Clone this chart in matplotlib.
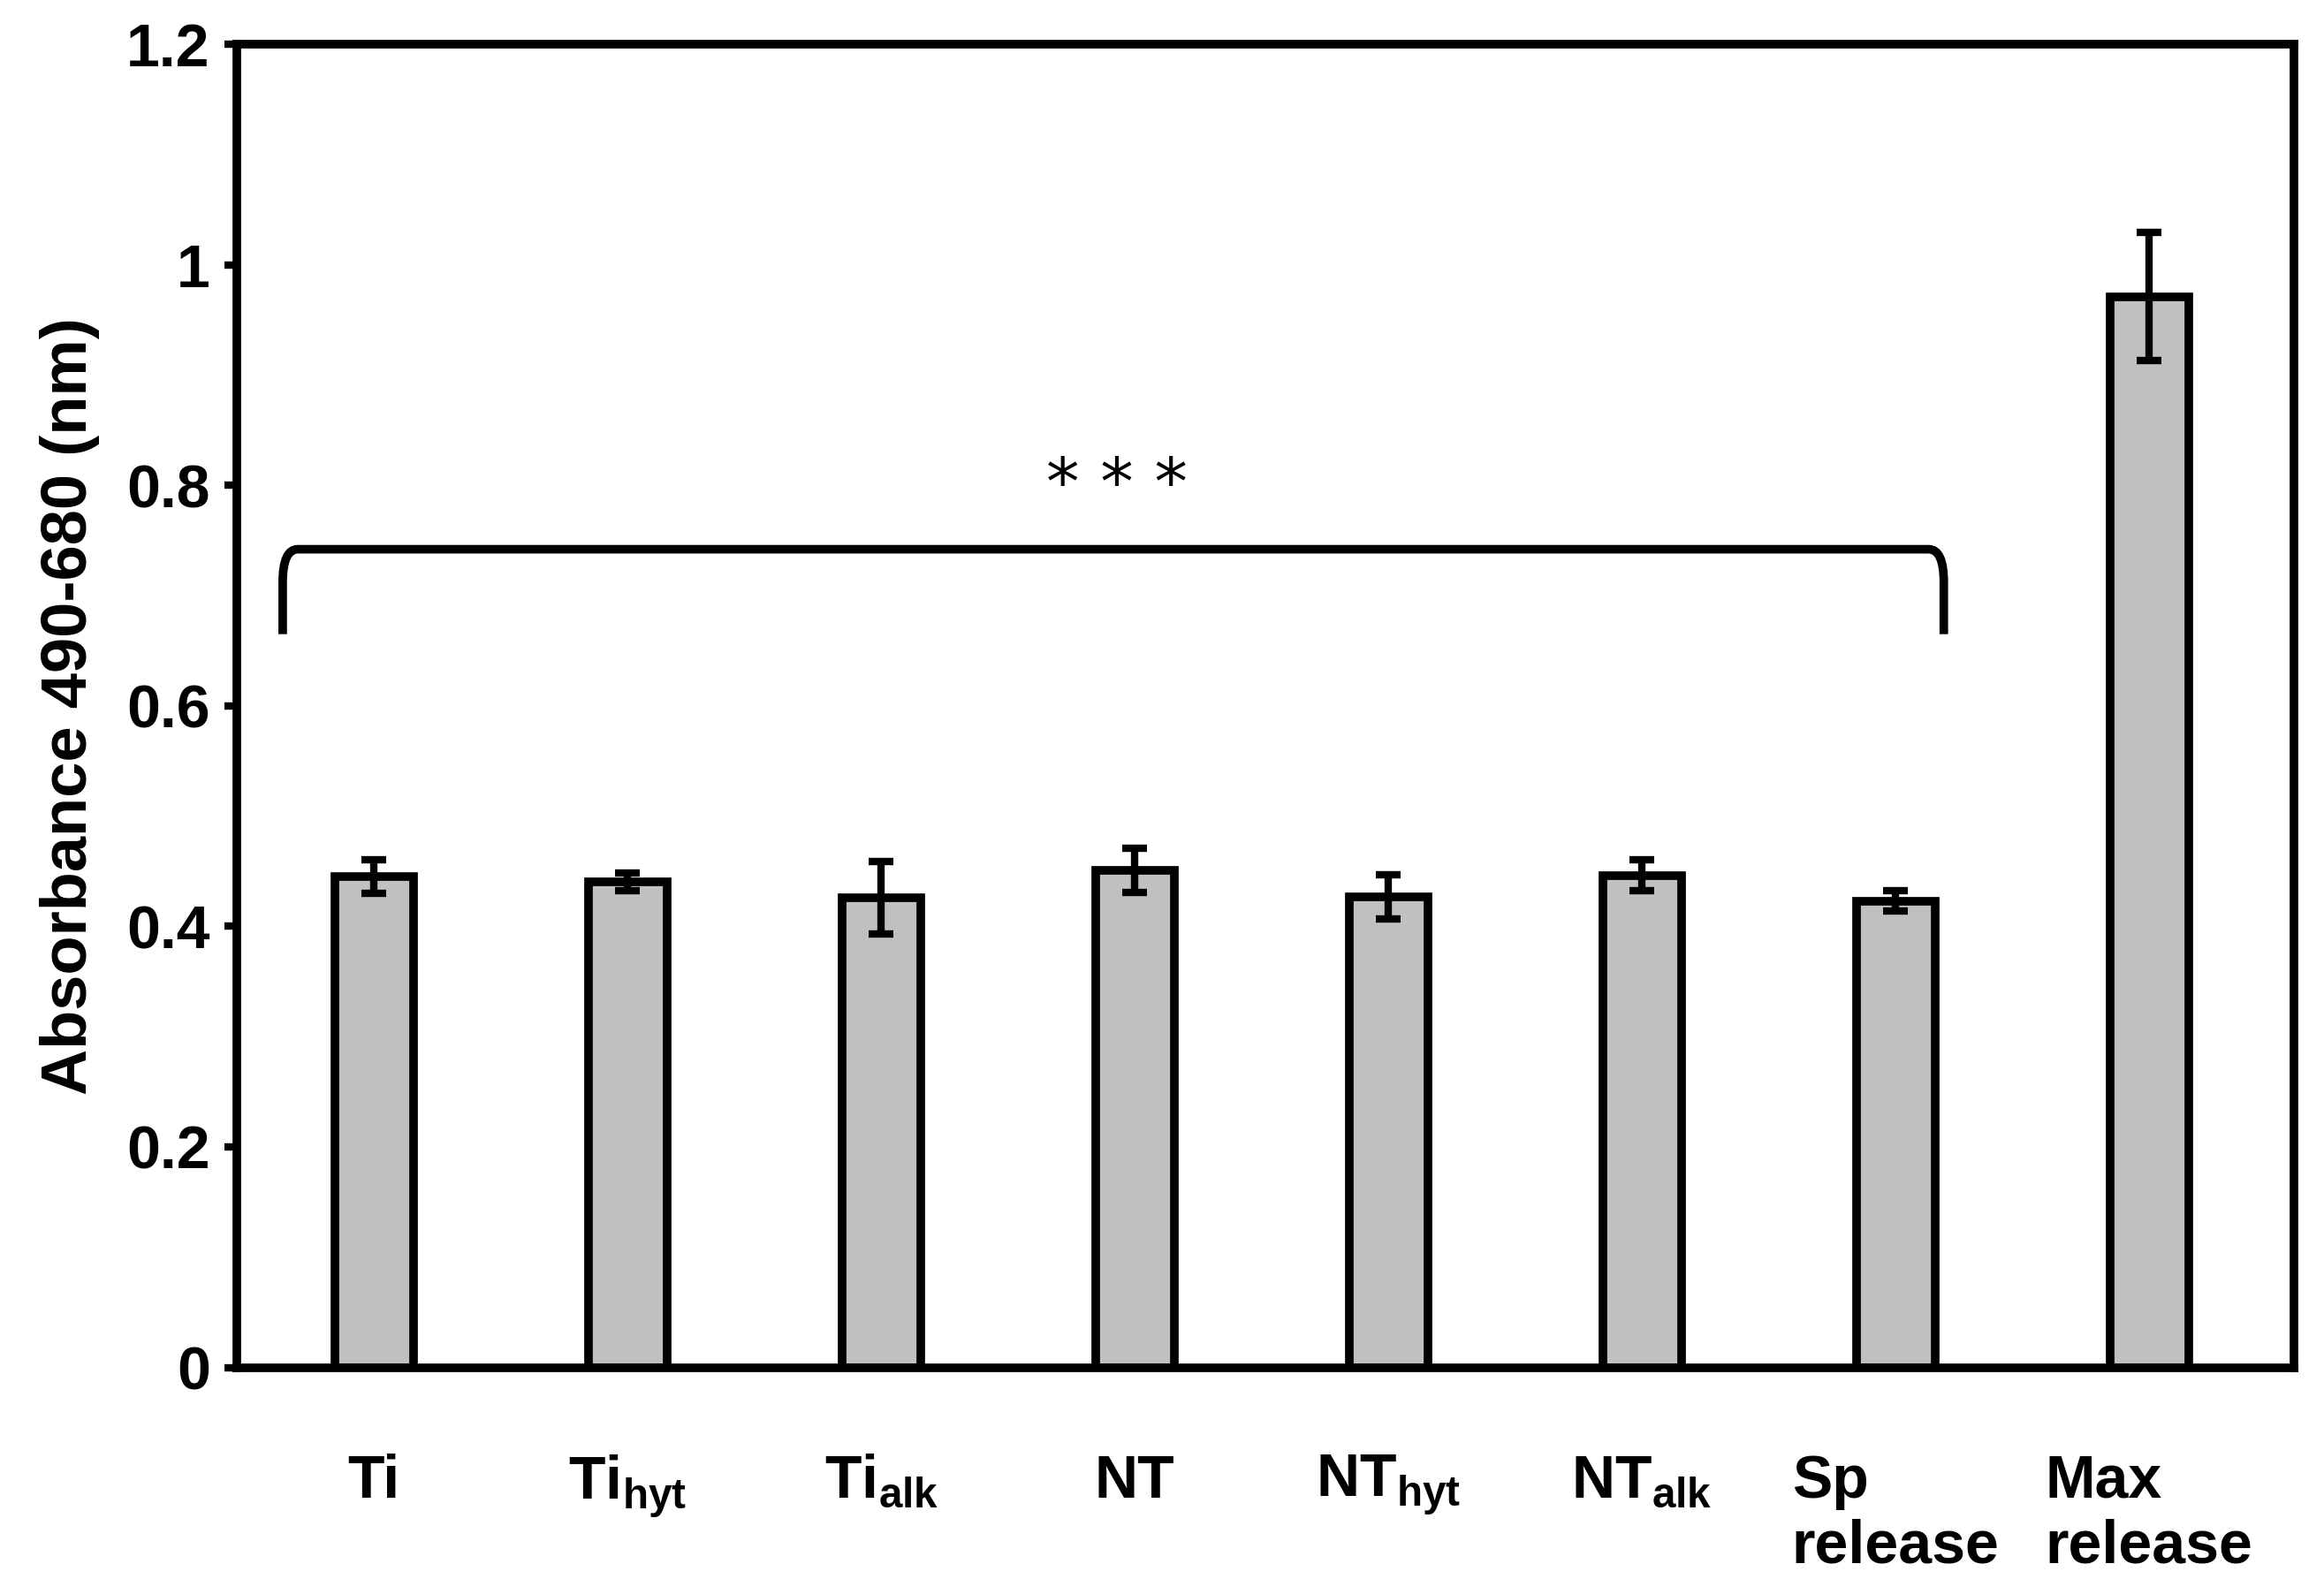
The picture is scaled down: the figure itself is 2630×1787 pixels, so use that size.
import matplotlib
matplotlib.use("Agg")
import matplotlib.pyplot as plt
from matplotlib.path import Path
from matplotlib.patches import PathPatch

plt.rcParams['font.family'] = ['Liberation Sans', 'DejaVu Sans']
plt.rcParams['font.weight'] = 'bold'
plt.rcParams['mathtext.fontset'] = 'custom'
plt.rcParams['mathtext.bf'] = 'Liberation Sans:bold'
plt.rcParams['mathtext.rm'] = 'Liberation Sans:bold'

labels = ['Ti', r'Ti$_\mathbf{hyt}$', r'Ti$_\mathbf{alk}$', 'NT', r'NT$_\mathbf{hyt}$',
          r'NT$_\mathbf{alk}$', 'Sp\nrelease', 'Max\nrelease']
values = [0.445, 0.440, 0.426, 0.451, 0.427, 0.446, 0.423, 0.971]
errors = [0.015, 0.008, 0.033, 0.020, 0.020, 0.014, 0.009, 0.058]

fig = plt.figure(figsize=(26.3, 17.87), dpi=100)
ax = fig.add_axes([0.102, 0.134, 0.885, 0.838])
x = list(range(len(values)))
ax.bar(x, values, width=0.31, color='#c0c0c0', edgecolor='black', linewidth=7,
       yerr=errors, error_kw=dict(ecolor='black', elinewidth=6, capsize=10, capthick=6), zorder=2)
ax.set_xlim(-0.54, 7.57)
ax.set_ylim(0, 1.2)
ax.set_yticks([0, 0.2, 0.4, 0.6, 0.8, 1.0, 1.2])
ax.set_yticklabels(['0', '0.2', '0.4', '0.6', '0.8', '1', '1.2'])
ax.set_xticks(x)
ax.set_xticklabels(labels, multialignment='left')
ax.tick_params(axis='y', labelsize=49, width=6, length=10, direction='out', pad=12)
ax.tick_params(axis='x', labelsize=49, length=0, pad=70)
for s in ax.spines.values():
    s.set_linewidth(7)
ax.set_ylabel('Absorbance 490-680 (nm)', fontsize=52, fontweight='bold', labelpad=22)

# bracket
x0, x1, ytop, ybot = -0.36, 6.19, 0.742, 0.665
verts = [(x0, ybot), (x0, ytop - 0.03), (x0, ytop), (x0 + 0.06, ytop),
         (x1 - 0.06, ytop), (x1, ytop), (x1, ytop - 0.03), (x1, ybot)]
codes = [Path.MOVETO, Path.LINETO, Path.CURVE3, Path.CURVE3,
         Path.LINETO, Path.CURVE3, Path.CURVE3, Path.LINETO]
ax.add_patch(PathPatch(Path(verts, codes), fill=False, lw=7, edgecolor='black'))
ax.text(2.93, 0.77, '* * *', ha='center', va='bottom', fontsize=54, fontweight='normal',
        family='DejaVu Sans')

fig.savefig('out.png', dpi=100)
